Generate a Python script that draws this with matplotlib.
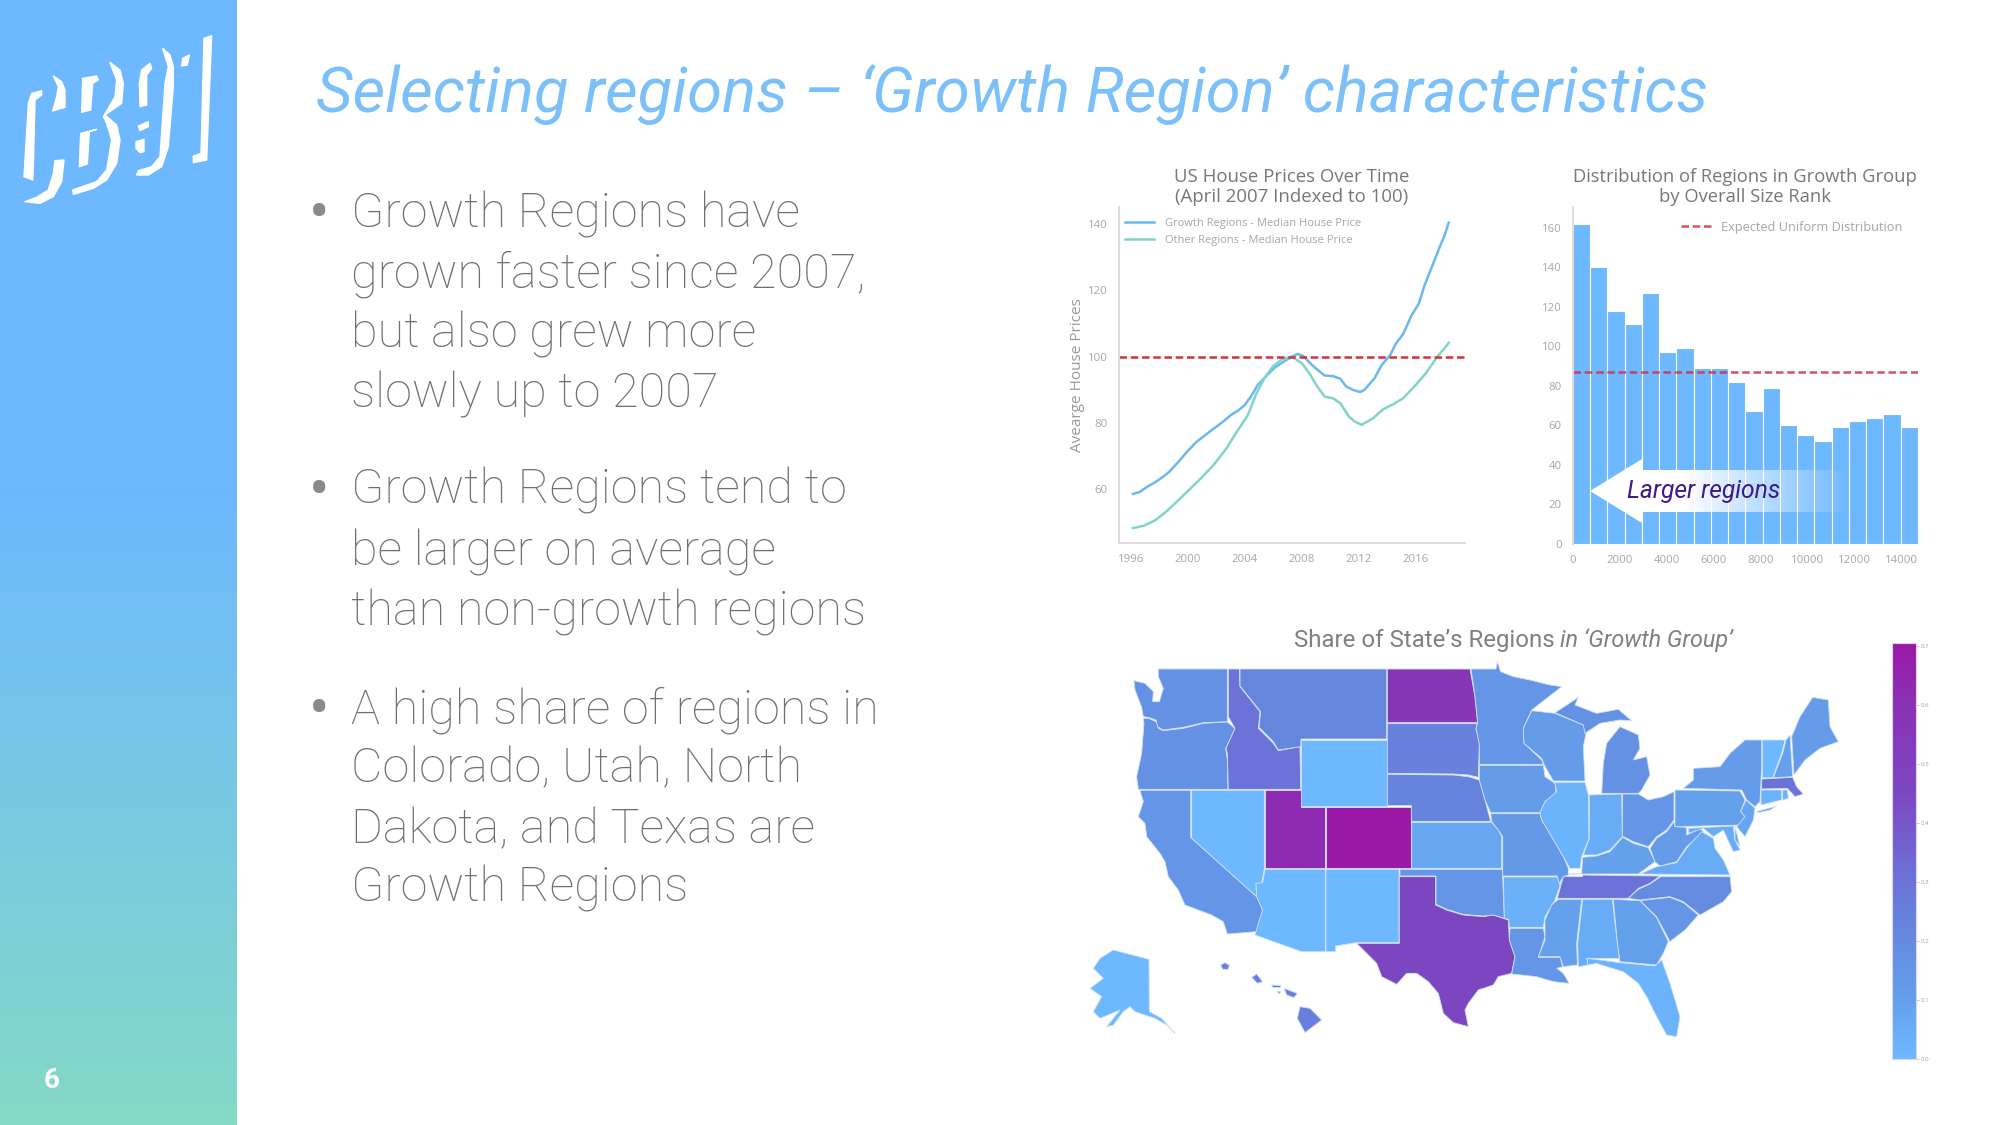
#!/usr/bin/env python
import numpy as np
import matplotlib
matplotlib.use('Agg')
import matplotlib.pyplot as plt
from matplotlib.cm import ScalarMappable
from matplotlib.colors import LinearSegmentedColormap, Normalize
from matplotlib.patches import Polygon

# house price index, years and values
growth_years = [1996.16, 1996.63, 1997.2, 1997.7, 1998.3, 1998.7, 1999.3, 2000.0, 2000.6, 2001.2, 2001.8,
                2002.4, 2003.1, 2003.5, 2004.0, 2004.5, 2004.9, 2005.5, 2006.1, 2006.7, 2007.3, 2007.7,
                2008.1, 2008.7, 2009.1, 2009.6, 2010.2, 2010.7, 2011.1, 2011.6, 2012.1, 2012.4, 2013.1,
                2013.6, 2014.2, 2014.6, 2015.1, 2015.7, 2016.2, 2016.6, 2017.2, 2017.7, 2018.0, 2018.3]
growth_prices = [58.5, 59.1, 60.8, 62.0, 63.8, 65.2, 68.0, 71.5, 74.2, 76.2, 78.2,
                 80.1, 82.6, 83.6, 85.4, 88.4, 91.4, 94.1, 96.7, 98.4, 100.0, 100.8,
                 100.2, 97.5, 96.0, 94.3, 94.1, 93.3, 91.0, 89.9, 89.3, 90.0, 93.5,
                 97.5, 100.5, 104.0, 106.8, 112.5, 116.0, 121.5, 128.0, 133.5, 136.5, 140.5]
other_years = [1996.16, 1996.9, 1997.7, 1998.5, 1999.6, 2000.8, 2001.8, 2002.7, 2003.5, 2004.2, 2004.8,
               2005.4, 2006.0, 2006.6, 2007.3, 2008.0, 2008.6, 2009.0, 2009.6, 2010.2, 2010.7, 2011.3,
               2011.7, 2012.2, 2013.0, 2013.7, 2014.4, 2015.1, 2016.0, 2016.7, 2017.5, 2018.0, 2018.3]
other_prices = [48.2, 48.9, 50.5, 53.2, 57.7, 62.7, 67.2, 72.2, 77.7, 82.2, 88.7,
                93.7, 97.2, 99.2, 100.0, 98.0, 94.5, 91.5, 87.9, 87.4, 85.9, 81.9,
                80.4, 79.4, 81.4, 84.1, 85.6, 87.4, 91.5, 95.0, 100.0, 102.5, 104.2]
index_level = 100
year_ticks = [1996, 2000, 2004, 2008, 2012, 2016]
price_ticks = [60, 80, 100, 120, 140]

# size rank histogram
bin_width = 735
bin_counts = [162, 140, 118, 111, 127, 97, 99, 89, 89, 82, 67, 79, 60, 55, 52, 59, 62, 63.5, 65.5, 59]
uniform_level = 87
rank_ticks = [0, 2000, 4000, 6000, 8000, 10000, 12000, 14000]
count_ticks = [0, 20, 40, 60, 80, 100, 120, 140, 160]

# share of each state's regions in the growth group
state_share = {'CO': .70, 'UT': .62, 'ND': .56, 'TX': .46, 'ID': .30, 'TN': .30, 'MA': .30, 'HI': .25, 'SD': .24,
               'NE': .23, 'MT': .22, 'NC': .20, 'WA': .17, 'OR': .17, 'MI': .17, 'CA': .15, 'MN': .15, 'OK': .15,
               'LA': .15, 'SC': .15, 'OH': .15, 'MO': .13, 'WI': .12, 'IA': .12, 'WV': .12, 'NY': .12, 'ME': .12,
               'PA': .10, 'MS': .10, 'GA': .10, 'KY': .10, 'NH': .10, 'NJ': .08, 'KS': .07, 'AL': .05, 'VA': .05,
               'IN': .05, 'DE': .05, 'MD': .05, 'AR': .03, 'RI': .03, 'FL': .02, 'IL': .02, 'CT': .02, 'NV': 0,
               'WY': 0, 'AZ': 0, 'NM': 0, 'AK': 0, 'VT': 0}
share_ticks = [0, .1, .2, .3, .4, .5, .6, .7]

# state outlines in map units, west part of the map
shapes_west = {
    'WA': [[(265,147),(472,147),(472,305),(400,308),(340,322),(280,330),(262,320),(258,300),(235,292),(220,290),(215,262),(195,210),(192,182),(225,190),(250,215),(248,245),(268,245),(280,205),(265,170)]],
    'OR': [[(220,295),(235,295),(258,305),(265,325),(280,332),(340,325),(400,310),(472,306),(495,325),(480,360),(467,385),(472,420),(474,508),(205,508),(200,470),(215,400),(222,310)]],
    'CA': [[(210,511),(362,511),(362,652),(560,830),(578,870),(560,935),(472,942),(460,905),(425,885),(345,855),(325,810),(295,770),(285,725),(270,700),(230,650),(225,610),(205,590),(220,545)]],
    'NV': [[(365,511),(583,511),(583,745),(575,790),(558,790),(560,830),(365,655)]],
    'ID': [[(475,147),(508,147),(510,200),(570,275),(565,325),(610,370),(625,392),(690,380),(692,508),(475,508),(472,400),(468,385),(495,325),(475,290)]],
    'MT': [[(510,147),(950,147),(950,357),(693,357),(692,380),(625,390),(610,365),(567,322),(572,275),(510,198)]],
    'WY': [[(693,360),(950,360),(950,557),(693,557)]],
    'UT': [[(585,511),(692,511),(692,560),(766,560),(766,745),(585,745)]],
    'CO': [[(768,560),(1023,560),(1023,745),(768,745)]],
    'AZ': [[(585,748),(766,748),(766,995),(695,995),(555,945),(568,900),(578,870),(560,830),(558,790),(578,788)]],
    'NM': [[(768,748),(987,748),(987,968),(858,968),(797,978),(797,995),(768,995)]],
    'TX': [[(988,770),(1097,770),(1097,855),(1130,870),(1180,885),(1240,890),(1270,885),(1315,900),(1318,960),(1335,1010),(1325,1060),(1285,1070),(1270,1095),(1225,1110),(1195,1150),(1185,1170),(1195,1220),(1150,1208),(1120,1180),(1105,1120),(1075,1085),(1040,1060),(1010,1060),(980,1093),(935,1070),(920,1030),(860,970),(988,970)]],
    'ND': [[(952,147),(1200,147),(1215,230),(1223,308),(952,308)]],
    'SD': [[(952,311),(1222,311),(1218,325),(1228,370),(1225,472),(1195,465),(1150,462),(952,460)]],
    'NE': [[(952,463),(1150,465),(1195,470),(1228,480),(1245,540),(1262,604),(1024,604),(1024,557),(952,557)]],
    'KS': [[(1025,607),(1265,607),(1285,630),(1295,650),(1295,745),(1025,745)]],
    'OK': [[(990,748),(1297,748),(1303,895),(1270,885),(1240,888),(1180,883),(1130,868),(1098,853),(1098,768),(990,768)]],
    'MN': [[(1203,147),(1278,147),(1282,125),(1292,155),(1330,170),(1380,180),(1440,195),(1475,200),(1385,270),(1360,325),(1362,370),(1415,420),(1420,433),(1228,433),(1228,372),(1218,325),(1223,308),(1215,230)]],
    'IA': [[(1228,436),(1420,436),(1425,470),(1455,490),(1458,520),(1425,545),(1410,578),(1262,578),(1245,540),(1228,480)]],
    'MO': [[(1262,581),(1410,581),(1415,600),(1445,650),(1480,710),(1495,745),(1495,765),(1480,770),(1465,795),(1462,768),(1298,768),(1298,650),(1285,630),(1265,605)]],
    'AR': [[(1300,771),(1462,771),(1470,797),(1478,775),(1455,840),(1425,890),(1420,922),(1318,922),(1316,898),(1303,895)]],
    'LA': [[(1320,925),(1420,925),(1425,950),(1405,1012),(1470,1012),(1478,1040),(1460,1045),(1480,1060),(1497,1090),(1450,1085),(1400,1070),(1325,1062),(1335,1010),(1318,960)]],
    'AK': [[(130,990),(237,1018),(238,1175),(275,1195),(315,1240),(290,1215),(255,1195),(195,1175),(180,1160),(160,1175),(130,1215),(110,1220),(150,1170),(90,1195),(70,1175),(95,1130),(60,1105),(100,1075),(70,1045),(90,1015)]],
    'HI': [[(452,1035),(465,1028),(478,1036),(475,1048),(458,1048)],[(545,1072),(560,1062),(578,1085),(562,1090)],[(605,1095),(632,1097),(632,1103),(608,1102)],[(620,1113),(632,1115),(628,1122)],[(642,1105),(660,1112),(682,1120),(672,1133),(650,1125)],[(690,1160),(720,1165),(755,1200),(705,1238),(682,1195)]],
}
# east part of the map, these have their own x origin
shapes_east = {
    'WI': [[(95,272),(165,280),(250,315),(258,340),(250,380),(255,483),(160,483),(133,435),(125,415),(72,370),(70,325)]],
    'MI': [[(165,278),(235,232),(225,255),(290,280),(355,268),(395,302),(360,300),(300,310),(255,340),(250,315)],[(305,520),(310,430),(320,370),(360,320),(415,345),(420,385),(400,420),(440,410),(450,465),(425,510),(415,520)]],
    'IL': [[(160,487),(255,487),(265,525),(267,655),(245,710),(240,745),(210,745),(190,710),(155,650),(125,600),(120,578),(135,545),(170,515),(165,490)]],
    'IN': [[(268,525),(365,522),(367,650),(330,690),(290,705),(250,705),(268,655)]],
    'OH': [[(368,522),(415,522),(445,540),(490,530),(522,515),(522,600),(500,630),(470,650),(445,680),(400,665),(367,648)]],
    'KY': [[(205,762),(245,760),(248,712),(290,708),(330,695),(368,652),(400,670),(445,683),(465,725),(415,762)]],
    'TN': [[(190,770),(247,770),(248,765),(480,768),(450,790),(415,805),(385,835),(172,835)]],
    'WV': [[(450,685),(470,655),(500,635),(522,605),(525,620),(560,622),(560,645),(600,625),(610,635),(560,680),(530,725),(480,738),(465,725)]],
    'VA': [[(420,762),(470,740),(530,728),(562,682),(605,635),(640,655),(645,685),(670,720),(690,765)]],
    'NC': [[(482,770),(690,770),(695,815),(670,845),(600,885),(550,845),(510,830),(420,840),(385,835),(415,808),(450,792)]],
    'SC': [[(420,842),(510,832),(550,848),(595,885),(555,930),(510,965),(470,890)]],
    'GA': [[(340,838),(420,842),(470,893),(505,965),(490,1000),(470,1035),(360,1025),(352,970)]],
    'AL': [[(248,838),(337,838),(352,970),(358,1015),(260,1015),(265,1035),(235,1040),(233,970)]],
    'MS': [[(175,838),(245,838),(230,970),(232,1035),(190,1040),(180,1010),(115,1010),(135,960),(135,900),(155,855)]],
    'FL': [[(262,1015),(360,1028),(465,1038),(485,1020),(510,1090),(540,1190),(530,1250),(500,1245),(470,1190),(440,1130),(415,1090),(370,1055),(320,1040),(290,1030),(262,1035)]],
    'PA': [[(525,510),(720,513),(735,540),(722,575),(738,590),(725,615),(525,620)]],
    'NY': [[(550,505),(580,480),(580,445),(660,440),(690,400),(735,360),(785,360),(785,440),(780,545),(765,560),(740,540),(725,510)],[(770,575),(830,558),(810,570),(775,578)]],
    'NJ': [[(738,540),(765,565),(760,600),(735,650),(710,620),(735,590),(722,575)]],
    'MD': [[(565,625),(700,618),(705,660),(720,690),(700,695),(670,630),(640,650),(610,625),(565,640)]],
    'DE': [[(705,618),(720,680),(705,660)]],
    'VT': [[(787,360),(855,360),(845,400),(818,473),(787,473)]],
    'NH': [[(858,360),(870,345),(878,470),(820,473),(848,400)]],
    'ME': [[(875,350),(900,290),(938,232),(985,240),(990,320),(1015,365),(960,385),(915,420),(882,465)]],
    'MA': [[(785,477),(878,472),(890,500),(910,522),(885,530),(862,505),(785,507)]],
    'CT': [[(783,510),(845,510),(845,540),(783,555)]],
    'RI': [[(848,510),(862,510),(865,535),(848,540)]],
}
EAST_SHIFT = 1290

# logo pieces, drawn in their own small box
logo_pieces = [
    [(125,272),(95,280),(85,310),(72,530),(98,540),(100,500),(105,300),(125,285)],
    [(160,228),(185,245),(195,270),(195,322),(158,333),(170,290),(175,260)],
    [(165,482),(192,480),(185,545),(160,590),(120,610),(75,605),(110,592),(145,570),(160,520)],
    [(248,235),(290,228),(295,240),(278,250),(272,330),(245,337)],
    [(242,400),(290,388),(268,395),(262,492),(238,500)],
    [(330,187),(360,210),(370,250),(365,310),(315,345),(350,375),(360,420),(350,490),(320,540),(280,565),(220,583),(218,570),(290,545),(320,510),(335,420),(320,370),(310,350),(345,290),(350,240)],
    [(450,190),(455,205),(440,225),(440,315),(420,320),(418,250),(425,210)],
    [(445,365),(445,380),(420,392),(415,378)],
    [(408,425),(432,418),(432,455),(420,458),(408,445)],
    [(488,145),(510,165),(520,200),(520,260),(505,440),(485,500),(445,525),(410,525),(415,512),(455,500),(480,470),(495,250),(505,200)],
    [(548,175),(568,165),(562,195),(545,198)],
    [(612,115),(635,107),(620,480),(580,488),(580,468),(603,460)],
]

bullet_lines = [
    (215, ['Growth Regions have', 'grown faster since 2007,', 'but also grew more', 'slowly up to 2007'], [227, 288, 348, 407]),
    (492, ['Growth Regions tend to', 'be larger on average', 'than non-growth regions'], [504, 565, 625]),
    (711, ['A high share of regions in', 'Colorado, Utah, North', 'Dakota, and Texas are', 'Growth Regions'], [723, 782, 843, 902]),
]

SKY = '#6DB8FF'
TEAL = '#84D9C6'
GREY = '#707070'
TICK_GREY = '#a6a6a6'
TITLE_GREY = '#777777'
RED = '#d3303f'

plt.rcParams['font.family'] = 'Roboto'
W, H = 2000, 1125
fig = plt.figure(figsize=(20, 11.25), dpi=100, facecolor='white')


def px_axes(left, top, right, bottom, **kwargs):
    return fig.add_axes([left / W, 1 - bottom / H, (right - left) / W, (bottom - top) / H], **kwargs)


def clean_axes(ax):
    ax.spines['top'].set_visible(False)
    ax.spines['right'].set_visible(False)
    ax.spines['left'].set_color('#dddddd')
    ax.spines['bottom'].set_color('#dddddd')
    ax.spines['left'].set_linewidth(1.5)
    ax.spines['bottom'].set_linewidth(1.5)
    ax.tick_params(length=0, labelcolor=TICK_GREY, labelsize=8.2)
    for label in ax.get_xticklabels() + ax.get_yticklabels():
        label.set_family('Open Sans')


# line chart
ax_line = px_axes(1119, 207, 1465, 543)
ax_line.plot(growth_years, growth_prices, color='#6cb8f0', lw=1.8, label='Growth Regions - Median House Price')
ax_line.plot(other_years, other_prices, color='#7fd6c4', lw=1.8, label='Other Regions - Median House Price')
ax_line.axhline(index_level, color=RED, lw=1.8, ls=(0, (3, 1.5)))
ax_line.set_xlim(1995.18, 2019.44)
ax_line.set_ylim(43.7, 145.2)
ax_line.set_xticks(year_ticks)
ax_line.set_yticks(price_ticks)
clean_axes(ax_line)
ax_line.tick_params(axis='x', pad=8)
ax_line.tick_params(axis='y', pad=8)
ax_line.legend(loc='upper left', frameon=False, labelcolor=TICK_GREY, handlelength=2.6, handletextpad=1,
               labelspacing=0.55, bbox_to_anchor=(0.005, 0.98), borderaxespad=0,
               prop={'family': 'Open Sans', 'size': 8.05})
ax_line.set_ylabel('Avearge House Prices', color='#999999', fontsize=11, family='Open Sans', labelpad=2.5)

# histogram
ax_bar = px_axes(1573, 207, 1918, 544)
bin_edges = np.arange(len(bin_counts)) * bin_width
ax_bar.bar(bin_edges, bin_counts, width=bin_width, align='edge', color=SKY, edgecolor='white', lw=0.8)
ax_bar.axhline(uniform_level, color=RED, lw=1.8, ls=(0, (3, 1.5)), alpha=0.85, label='Expected Uniform Distribution')
ax_bar.set_xlim(0, 14709)
ax_bar.set_ylim(0, 170.4)
ax_bar.set_xticks(rank_ticks)
ax_bar.set_yticks(count_ticks)
clean_axes(ax_bar)
ax_bar.spines['bottom'].set_visible(False)
ax_bar.tick_params(axis='x', pad=8)
ax_bar.tick_params(axis='y', pad=8)
ax_bar.legend(loc='upper left', frameon=False, labelcolor=TICK_GREY, handlelength=2.4, handletextpad=0.73,
              bbox_to_anchor=(0.298, 0.975), borderaxespad=0, prop={'family': 'Open Sans', 'size': 9.2})

# map, 3 map units to a pixel
cmap = LinearSegmentedColormap.from_list('growth', [(0, SKY), (.14, '#64A0EC'), (.28, '#648BE0'), (.43, '#6C72D8'),
                                                    (.64, '#7C48C2'), (.86, '#8A30B4'), (1, '#9A18A6')])
norm = Normalize(0, 0.705)
ax_map = px_axes(1070, 620, 1880, 1070)
ax_map.set_xlim(0, 2430)
ax_map.set_ylim(1350, 0)
ax_map.axis('off')
for shapes, shift in ((shapes_west, 0), (shapes_east, EAST_SHIFT)):
    for state, parts in shapes.items():
        for part in parts:
            xy = np.array(part, dtype=float) + [shift, 0]
            ax_map.add_patch(Polygon(xy, closed=True, facecolor=cmap(norm(state_share[state])),
                                     edgecolor='#cfe0fa', lw=0.6))

# colour bar
ax_cb = px_axes(1892, 643, 1916, 1059)
cb = fig.colorbar(ScalarMappable(norm=norm, cmap=cmap), cax=ax_cb, ticks=share_ticks)
cb.outline.set_edgecolor('#e3d3f0')
cb.ax.tick_params(length=2, width=0.6, color='#bbbbbb', labelcolor='#aaaaaa', labelsize=4.5, pad=1.5)

# slide layer in pixel coordinates
ov = fig.add_axes([0, 0, 1, 1], zorder=10)
ov.patch.set_alpha(0)
ov.axis('off')

# side bar gradient
sky_rgb = np.array(matplotlib.colors.to_rgb(SKY))
teal_rgb = np.array(matplotlib.colors.to_rgb(TEAL))
fade = np.clip((np.linspace(0, 1125, 300) - 480) / 645, 0, 1)[:, None]
ov.imshow((sky_rgb * (1 - fade) + teal_rgb * fade)[:, None, :], extent=[0, 237, 1125, 0], aspect='auto', zorder=1)

for piece in logo_pieces:
    # logo crop was 3x the slide scale
    ov.add_patch(Polygon(np.array(piece) / 3, closed=True, facecolor='white', edgecolor='white', lw=1,
                         joinstyle='round', zorder=2))
ov.text(52, 1081, '6', color='white', fontsize=20, fontweight='bold', ha='center', va='center', zorder=3)

ov.text(316, 112, 'Selecting regions \u2013 \u2018Growth Region\u2019 characteristics', color='#7cc0fa',
        fontsize=45.6, style='italic', ha='left', va='baseline')

for bullet_y, lines, ys in bullet_lines:
    ov.text(319, bullet_y, '\u2022', color='#8a8a8a', fontsize=44, ha='center', va='center')
    for line, y in zip(lines, ys):
        ov.text(351, y, line, color=GREY, fontsize=35, fontweight='light', ha='left', va='baseline')

ov.text(1292, 177, 'US House Prices Over Time', color=TITLE_GREY, fontsize=13.4, family='Open Sans', ha='center', va='center')
ov.text(1292, 197, '(April 2007 Indexed to 100)', color=TITLE_GREY, fontsize=13.4, family='Open Sans', ha='center', va='center')
ov.text(1745, 177, 'Distribution of Regions in Growth Group', color=TITLE_GREY, fontsize=13.2, family='Open Sans', ha='center', va='center')
ov.text(1745, 197, 'by Overall Size Rank', color=TITLE_GREY, fontsize=13.2, family='Open Sans', ha='center', va='center')

ov.text(1555, 640, 'Share of State\u2019s Regions', color='#808080', fontsize=17.3, ha='right', va='center')
ov.text(1560, 640, 'in \u2018Growth Group\u2019', color='#808080', fontsize=16.8, style='italic', ha='left', va='center')

# "Larger regions" arrow on top of the histogram
ov.add_patch(Polygon([(1590, 491), (1642, 459), (1642, 523)], closed=True, facecolor='white', edgecolor='none', zorder=4))
shaft = np.ones((2, 200, 4))
shaft[:, :, 3] = np.clip(1.25 - np.linspace(0, 1.25, 200), 0, 1)
ov.imshow(shaft, extent=[1642, 1850, 512, 470], aspect='auto', zorder=4)
ov.text(1704, 491, 'Larger regions', color='#3d1a87', fontsize=17.7, style='italic', ha='center', va='center', zorder=5)

ov.set_xlim(0, W)
ov.set_ylim(H, 0)

fig.savefig('out.png', dpi=100)
